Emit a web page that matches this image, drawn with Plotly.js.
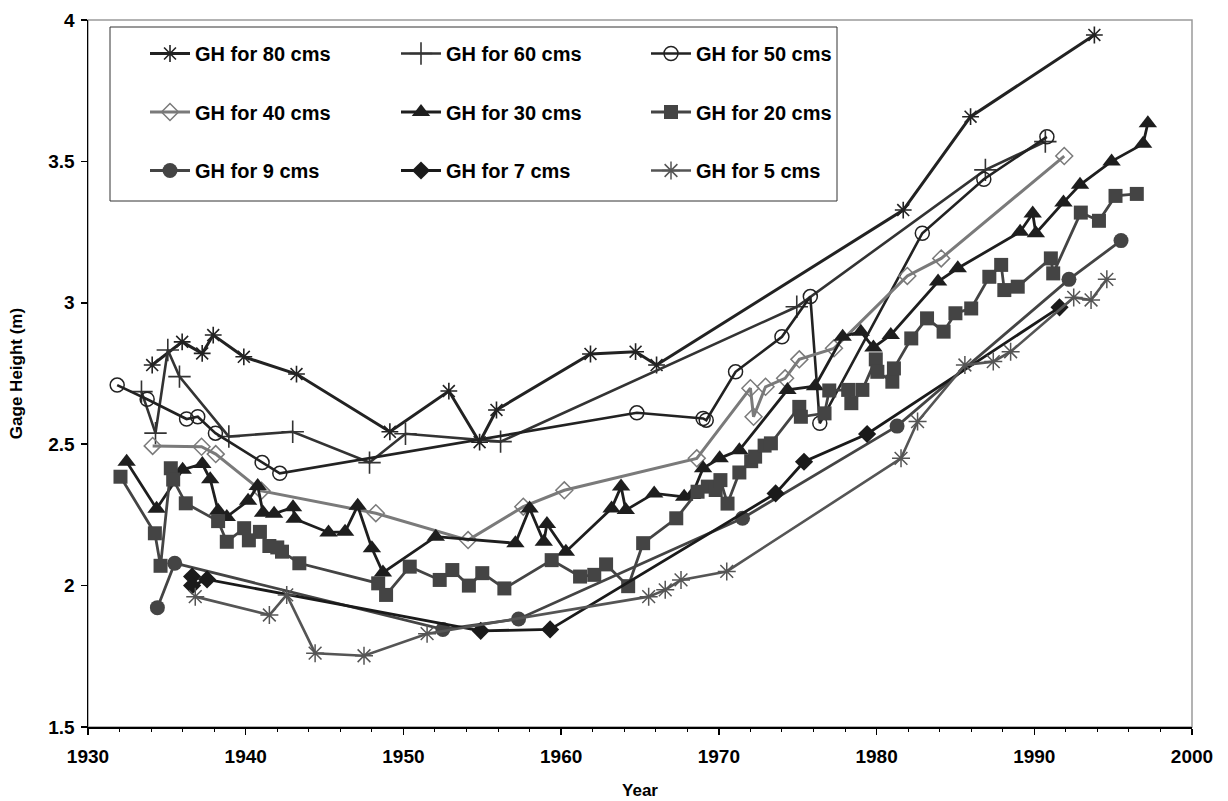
<!DOCTYPE html>
<html><head><meta charset="utf-8">
<script src="https://cdn.plot.ly/plotly-3.0.1.min.js"></script>
<style>html,body{margin:0;padding:0;background:#fff}#chart{width:1228px;height:801px}</style>
</head><body><div id="chart"></div>
<script>
// ---------- data ----------
const seriesNames = ["GH for 80 cms","GH for 60 cms","GH for 50 cms","GH for 40 cms","GH for 30 cms","GH for 20 cms","GH for 9 cms","GH for 7 cms","GH for 5 cms"];

const years80 = [1934.07,1935.97,1937.24,1937.94,1939.88,1943.22,1949.14,1952.88,1954.83,1955.90,1961.86,1964.72,1966.05,1981.69,1985.96,1993.81];
const gh80    = [2.780,2.862,2.821,2.886,2.809,2.748,2.544,2.688,2.507,2.621,2.819,2.827,2.780,3.328,3.658,3.947];

const years60 = [1933.39,1934.28,1935.06,1935.80,1938.93,1942.98,1947.85,1950.13,1956.16,1974.94,1986.90,1990.70];
const gh60    = [2.686,2.539,2.833,2.739,2.527,2.544,2.435,2.537,2.509,2.986,3.470,3.570];

const years50 = [1931.85,1933.75,1936.25,1936.96,1938.08,1941.04,1942.16,1964.80,1969.00,1969.20,1971.06,1974.00,1975.80,1976.40,1982.90,1986.80,1990.80];
const gh50    = [2.709,2.659,2.589,2.597,2.539,2.435,2.397,2.611,2.591,2.585,2.756,2.880,3.022,2.574,3.246,3.437,3.587];

const years40 = [1934.10,1937.20,1938.10,1941.00,1948.25,1954.10,1957.60,1960.20,1968.60,1972.00,1972.20,1972.96,1974.20,1975.10,1977.30,1981.95,1984.10,1991.90];
const gh40    = [2.494,2.491,2.465,2.335,2.256,2.161,2.279,2.337,2.450,2.698,2.597,2.703,2.733,2.800,2.839,3.095,3.157,3.519];

const years30 = [1932.45,1934.35,1936.00,1937.25,1937.75,1938.25,1938.80,1940.15,1940.76,1941.10,1941.80,1943.00,1943.10,1945.25,1946.30,1947.10,1948.00,1948.70,1952.05,1957.10,1958.00,1958.90,1959.10,1960.30,1963.20,1963.80,1964.10,1965.90,1967.80,1968.30,1969.00,1970.05,1971.30,1974.35,1976.10,1977.85,1979.00,1979.80,1980.90,1983.90,1985.15,1989.10,1989.90,1990.10,1991.85,1992.90,1994.90,1996.90,1997.20];
const gh30    = [2.438,2.272,2.410,2.430,2.376,2.265,2.243,2.300,2.352,2.258,2.254,2.277,2.236,2.188,2.190,2.282,2.132,2.046,2.173,2.150,2.273,2.155,2.218,2.120,2.273,2.350,2.267,2.326,2.314,2.320,2.415,2.450,2.479,2.692,2.705,2.880,2.898,2.842,2.886,3.075,3.122,3.251,3.316,3.246,3.355,3.417,3.500,3.562,3.635];

const years20 = [1932.06,1934.24,1934.60,1935.25,1935.40,1936.20,1938.25,1938.80,1939.90,1940.20,1940.90,1941.50,1942.00,1942.30,1943.40,1948.40,1948.90,1950.40,1952.30,1953.10,1954.15,1955.00,1956.40,1959.40,1961.20,1962.10,1962.85,1964.25,1965.20,1967.30,1968.65,1969.30,1969.80,1970.10,1970.55,1971.30,1972.05,1972.30,1972.90,1973.30,1975.10,1975.20,1976.70,1977.00,1978.20,1978.40,1979.10,1979.95,1980.05,1981.00,1981.10,1982.20,1983.20,1984.25,1985.00,1986.00,1987.15,1987.90,1988.10,1988.95,1991.05,1991.20,1992.95,1994.10,1995.15,1996.50];
const gh20    = [2.385,2.185,2.070,2.415,2.375,2.291,2.228,2.155,2.203,2.160,2.190,2.140,2.135,2.120,2.079,2.008,1.967,2.067,2.020,2.055,2.000,2.044,1.990,2.090,2.032,2.038,2.075,1.998,2.150,2.238,2.332,2.350,2.338,2.373,2.290,2.400,2.440,2.456,2.495,2.503,2.632,2.597,2.609,2.690,2.692,2.645,2.692,2.800,2.756,2.721,2.768,2.874,2.945,2.898,2.963,2.980,3.092,3.134,3.045,3.057,3.157,3.104,3.319,3.290,3.378,3.385];

const years9 = [1934.40,1935.50,1952.50,1957.30,1971.50,1981.30,1992.20,1995.50];
const gh9    = [1.922,2.079,1.845,1.882,2.238,2.564,3.083,3.220];

const years7 = [1936.60,1936.60,1937.55,1954.90,1959.30,1973.60,1975.40,1979.40,1991.60];
const gh7    = [2.032,2.000,2.022,1.840,1.845,2.326,2.438,2.536,2.984];

const years5 = [1936.80,1941.50,1942.60,1944.40,1947.50,1951.50,1965.55,1966.60,1967.60,1970.50,1981.55,1982.60,1985.60,1987.40,1988.50,1992.50,1993.60,1994.60];
const gh5    = [1.961,1.896,1.967,1.761,1.752,1.830,1.961,1.985,2.020,2.050,2.450,2.580,2.780,2.792,2.827,3.019,3.010,3.083];

const xTickVals = [1930,1940,1950,1960,1970,1980,1990,2000];
const yTickVals = [1.5,2,2.5,3,3.5,4];

// ---------- styles ----------
const FONT = "'Liberation Sans', Arial, Helvetica, sans-serif";
const styles = [
  {color:'#222222', symbol:'asterisk-open', size:14, lw:3,   mlw:1.6, legend:'legend'},
  {color:'#333333', symbol:'cross-thin-open', size:16, lw:2.6, mlw:1.6, legend:'legend2'},
  {color:'#222222', symbol:'circle-open', size:14, lw:2.6, mlw:1.5, legend:'legend3'},
  {color:'#7a7a7a', symbol:'diamond-open', size:13, lw:3,   mlw:1.5, legend:'legend'},
  {color:'#1e1e1e', symbol:'triangle-up', size:16, lw:2.8, mlw:0, legend:'legend2'},
  {color:'#444444', symbol:'square', size:14, lw:2.8, mlw:0, legend:'legend3'},
  {color:'#444444', symbol:'circle', size:15, lw:2.8, mlw:0, legend:'legend'},
  {color:'#1a1a1a', symbol:'diamond', size:14, lw:2.8, mlw:0, legend:'legend2'},
  {color:'#555555', symbol:'asterisk-open', size:15, lw:2.6, mlw:1.5, legend:'legend3'}
];
const xs = [years80,years60,years50,years40,years30,years20,years9,years7,years5];
const ys = [gh80,gh60,gh50,gh40,gh30,gh20,gh9,gh7,gh5];

const traces = seriesNames.map((n,i)=>{
  const s = styles[i];
  return {
    type:'scatter', mode:'lines+markers', name:n, x:xs[i], y:ys[i],
    legend:s.legend, legendgroup:'g'+i,
    line:{color:s.color, width:s.lw},
    marker:{symbol:s.symbol, size:s.size, color:s.color,
            line:{color:s.color, width:s.mlw}},
    hoverinfo:'x+y+name'
  };
});

// pixel helpers for layout placement (plot area 88..1192 x 20..727)
const L=88, R=36, T=20, B=74, W=1228, H=801;
const PW=W-L-R, PH=H-T-B;
const px = v => (v-L)/PW;
const py = v => (H-B-v)/PH;

const legFont = {family:FONT, size:20, color:'#000', weight:'bold'};
function leg(xp){
  return {x:px(xp), y:py(34), xanchor:'left', yanchor:'top', bgcolor:'rgba(0,0,0,0)',
          borderwidth:0, font:legFont, itemwidth:40, tracegroupgap:29.5, orientation:'v'};
}

const layout = {
  width:W, height:H, autosize:false,
  margin:{l:L, r:R, t:T, b:B, pad:0},
  paper_bgcolor:'#fff', plot_bgcolor:'#fff',
  font:{family:FONT, color:'#000', weight:'bold'},
  showlegend:true,
  legend:leg(145), legend2:leg(396), legend3:leg(646),
  xaxis:{range:[1930,2000], tickvals:xTickVals, ticks:'outside', ticklen:6, tickwidth:1.5, tickcolor:'#000',
         minor:{dtick:2, tick0:1930, ticks:'outside', ticklen:3, tickwidth:1, tickcolor:'#000'},
         showline:true, linecolor:'#000', linewidth:1.5, showgrid:false, zeroline:false,
         ticklabelstandoff:6,
         tickfont:{family:FONT, size:19, color:'#000', weight:'bold'},
         title:{text:'Year', font:{family:FONT, size:17, color:'#000', weight:'bold'}, standoff:18},
         fixedrange:true},
  yaxis:{range:[1.5,4], tickvals:yTickVals, ticks:'outside', ticklen:6, tickwidth:1.5, tickcolor:'#000',
         showline:true, linecolor:'#000', linewidth:1.5, showgrid:false, zeroline:false,
         ticklabelstandoff:2,
         tickfont:{family:FONT, size:19, color:'#000', weight:'bold'},
         title:{text:'Gage Height (m)', font:{family:FONT, size:17, color:'#000', weight:'bold'}, standoff:21},
         fixedrange:true},
  xaxis2:{overlaying:'x', anchor:'y', side:'bottom', range:[1930,2000], tickvals:xTickVals,
          ticks:'inside', ticklen:8, tickwidth:1.5, tickcolor:'#000', showticklabels:false,
          minor:{dtick:2, tick0:1930, ticks:'inside', ticklen:3, tickwidth:1, tickcolor:'#000'},
          showgrid:false, zeroline:false, showline:false, fixedrange:true},
  yaxis2:{overlaying:'y', anchor:'x', side:'left', range:[1.5,4], tickvals:yTickVals,
          ticks:'inside', ticklen:7, tickwidth:1.5, tickcolor:'#000', showticklabels:false,
          showgrid:false, zeroline:false, showline:false, fixedrange:true},
  shapes:[
    {type:'rect', xref:'paper', yref:'paper', x0:0, x1:1, y0:0, y1:1,
     line:{color:'#9a9a9a', width:1.5}, fillcolor:'rgba(0,0,0,0)', layer:'below'},
    {type:'rect', xref:'paper', yref:'paper', x0:px(110), x1:px(837), y0:py(201), y1:py(27),
     line:{color:'#333', width:1}, fillcolor:'rgba(0,0,0,0)', layer:'below'}
  ]
};

Plotly.newPlot('chart', traces, layout, {displayModeBar:false, staticPlot:true});
</script>
</body></html>
